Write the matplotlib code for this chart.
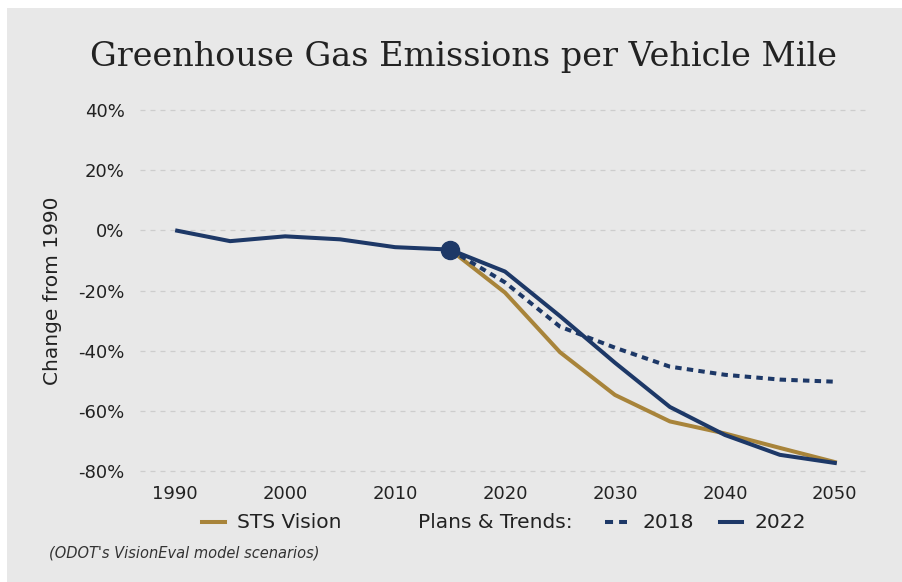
import matplotlib
matplotlib.use("Agg")
import matplotlib.pyplot as plt
from matplotlib.lines import Line2D
from matplotlib.patches import Rectangle
from matplotlib.ticker import FuncFormatter

# Historical trend (1990-2015), change from 1990 in percent
hist_years = [1990, 1995, 2000, 2005, 2010, 2015]
hist_vals = [0.0, -3.6, -2.0, -3.0, -5.6, -6.4]

# Projections from 2015 onward
proj_years = [2015, 2020, 2025, 2030, 2035, 2040, 2045, 2050]
sts_vision = [-6.4, -20.7, -40.5, -54.7, -63.5, -67.5, -72.3, -77.0]
plans_2018 = [-6.4, -17.3, -32.0, -39.0, -45.3, -48.0, -49.6, -50.3]
plans_2022 = [-6.4, -13.7, -28.5, -44.0, -58.7, -68.0, -74.6, -77.3]

y_ticks = [40, 20, 0, -20, -40, -60, -80]
x_ticks = [1990, 2000, 2010, 2020, 2030, 2040, 2050]

NAVY = "#1d3867"
GOLD = "#a8843a"
BG = "#e8e8e8"
TEXT = "#222222"
SANS = "DejaVu Sans"

fig = plt.figure(figsize=(9.02, 5.82), dpi=100, facecolor="white")
W, H = 902, 582

# grey panel behind everything
fig.patches.append(Rectangle((7 / W, 0), 1 - 7 / W, 1 - 8 / H, transform=fig.transFigure,
                             facecolor=BG, edgecolor="none", zorder=-10))

ax = fig.add_axes([140 / W, 1 - 478 / H, 730 / W, 378 / H])
ax.set_zorder(1)
ax.set_facecolor("none")
for s in ax.spines.values():
    s.set_visible(False)

ax.set_xlim(1986.8, 2053.2)
ax.set_ylim(-82.3, 43.3)
ax.set_yticks(y_ticks)
ax.set_xticks(x_ticks)
ax.yaxis.set_major_formatter(FuncFormatter(lambda v, p: f"{int(v)}%"))
ax.tick_params(length=0, labelsize=13, colors=TEXT)
ax.tick_params(axis="y", pad=11)
ax.tick_params(axis="x", pad=5)
for lab in ax.get_xticklabels() + ax.get_yticklabels():
    lab.set_fontfamily(SANS)
ax.grid(axis="y", color="#cdcdcd", linestyle=(0, (4, 4)), linewidth=0.9)
ax.grid(axis="x", visible=False)

lw = 2.9
dotted = (0, (1.6, 1.3))
ax.plot(hist_years, hist_vals, color=NAVY, lw=lw, solid_capstyle="butt", zorder=4)
ax.plot(proj_years, sts_vision, color=GOLD, lw=lw, zorder=3)
ax.plot(proj_years, plans_2018, color=NAVY, lw=lw, linestyle=dotted, zorder=3)
ax.plot(proj_years, plans_2022, color=NAVY, lw=lw, zorder=4)
ax.plot([hist_years[-1]], [hist_vals[-1]], "o", color=NAVY, markersize=13, zorder=5)

ax.set_ylabel("Change from 1990", fontsize=14.5, color=TEXT, family=SANS)
ax.yaxis.set_label_coords(53 / W, 0.5, transform=fig.transFigure)
ax.yaxis.label.set_verticalalignment("center")

fig.text(463 / W, 1 - 57 / H, "Greenhouse Gas Emissions per Vehicle Mile",
         ha="center", va="center", fontsize=24.1, family="DejaVu Serif", color=TEXT)

# legend row
ly = 1 - 522 / H
def key(x0, x1, **kw):
    fig.add_artist(Line2D([x0 / W, x1 / W], [ly, ly], transform=fig.transFigure,
                          lw=lw, **kw))

LFS = 14.5
key(202, 225, color=GOLD)
fig.text(237 / W, ly, "STS Vision", ha="left", va="center", fontsize=LFS, family=SANS, color=TEXT)
fig.text(418 / W, ly, "Plans & Trends:", ha="left", va="center", fontsize=LFS, family=SANS, color=TEXT)
key(605, 627, color=NAVY, linestyle=(0, (2.0, 1.5)))
fig.text(643 / W, ly, "2018", ha="left", va="center", fontsize=LFS, family=SANS, color=TEXT)
key(720, 742, color=NAVY)
fig.text(755 / W, ly, "2022", ha="left", va="center", fontsize=LFS, family=SANS, color=TEXT)

fig.text(49 / W, 1 - 553 / H, "(ODOT's VisionEval model scenarios)", ha="left", va="center",
         fontsize=10.5, style="italic", family=SANS, color="#333333")

fig.savefig("out.png", dpi=100, facecolor=fig.get_facecolor())
